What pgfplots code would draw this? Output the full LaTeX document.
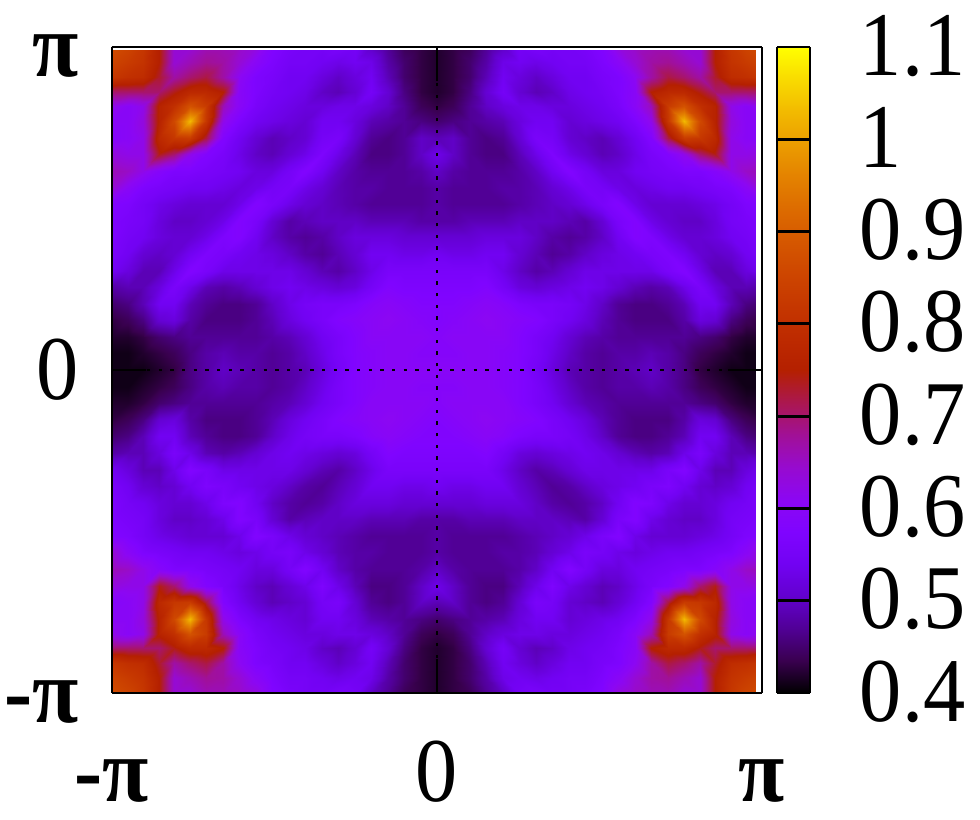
\documentclass[border=0pt]{standalone}
\usepackage{fontspec}
\setmainfont{Liberation Serif}
\usepackage{pgfplots}
\usepackage{pgfplotstable}
\pgfplotsset{compat=1.18}

% one quadrant (x>0, y>0), top row first, left column = x 0
\pgfplotstableread[row sep=\\,header=false]{
.42\\.43\\.44\\.47\\.50\\.55\\.56\\.55\\.55\\.56\\.58\\.63\\.65\\.66\\.66\\.64\\.64\\.75\\.82\\.85\\.87\\
.42\\.43\\.45\\.48\\.53\\.54\\.53\\.54\\.55\\.55\\.57\\.60\\.64\\.67\\.68\\.66\\.64\\.75\\.81\\.83\\.85\\
.42\\.43\\.45\\.49\\.54\\.52\\.50\\.52\\.54\\.54\\.56\\.57\\.61\\.67\\.72\\.70\\.67\\.73\\.79\\.80\\.82\\
.42\\.43\\.46\\.51\\.55\\.51\\.49\\.50\\.53\\.54\\.55\\.57\\.60\\.75\\.78\\.78\\.74\\.70\\.70\\.70\\.70\\
.43\\.44\\.47\\.50\\.52\\.53\\.53\\.52\\.52\\.53\\.54\\.56\\.60\\.66\\.83\\.88\\.80\\.76\\.62\\.60\\.62\\
.45\\.46\\.47\\.48\\.49\\.52\\.54\\.54\\.51\\.52\\.53\\.54\\.57\\.62\\.82\\1.03\\.86\\.76\\.63\\.60\\.60\\
.49\\.50\\.47\\.46\\.47\\.51\\.56\\.55\\.51\\.50\\.49\\.51\\.54\\.58\\.72\\.83\\.82\\.78\\.62\\.60\\.59\\
.53\\.50\\.47\\.46\\.46\\.49\\.53\\.57\\.53\\.51\\.49\\.50\\.53\\.56\\.58\\.62\\.70\\.74\\.62\\.62\\.63\\
.50\\.48\\.47\\.47\\.47\\.48\\.50\\.54\\.58\\.55\\.52\\.52\\.54\\.55\\.56\\.57\\.57\\.59\\.62\\.65\\.66\\
.48\\.47\\.47\\.47\\.48\\.48\\.49\\.51\\.53\\.56\\.55\\.53\\.52\\.53\\.54\\.54\\.55\\.56\\.57\\.60\\.64\\
.48\\.47\\.47\\.47\\.47\\.48\\.49\\.50\\.51\\.53\\.56\\.58\\.53\\.51\\.51\\.51\\.52\\.53\\.55\\.57\\.58\\
.48\\.48\\.49\\.49\\.49\\.50\\.50\\.50\\.49\\.48\\.51\\.56\\.58\\.53\\.51\\.50\\.50\\.52\\.55\\.56\\.57\\
.51\\.51\\.51\\.52\\.52\\.52\\.50\\.48\\.47\\.48\\.50\\.54\\.58\\.57\\.53\\.51\\.51\\.52\\.54\\.55\\.57\\
.54\\.53\\.53\\.54\\.54\\.51\\.49\\.47\\.48\\.50\\.52\\.53\\.54\\.56\\.57\\.54\\.51\\.50\\.51\\.54\\.56\\
.56\\.56\\.56\\.56\\.53\\.50\\.48\\.49\\.51\\.53\\.53\\.53\\.53\\.53\\.56\\.58\\.53\\.49\\.49\\.52\\.54\\
.57\\.57\\.57\\.58\\.55\\.52\\.51\\.52\\.53\\.54\\.53\\.51\\.49\\.48\\.49\\.53\\.56\\.52\\.49\\.49\\.48\\
.58\\.58\\.59\\.60\\.59\\.57\\.56\\.56\\.55\\.53\\.50\\.47\\.46\\.46\\.47\\.49\\.54\\.54\\.49\\.46\\.45\\
.58\\.59\\.60\\.61\\.60\\.59\\.58\\.56\\.54\\.52\\.49\\.47\\.46\\.46\\.46\\.48\\.52\\.51\\.46\\.44\\.43\\
.59\\.60\\.60\\.60\\.60\\.58\\.56\\.54\\.51\\.49\\.48\\.47\\.47\\.47\\.47\\.47\\.46\\.45\\.43\\.42\\.42\\
.59\\.59\\.60\\.60\\.59\\.58\\.56\\.53\\.50\\.48\\.47\\.48\\.48\\.49\\.48\\.46\\.44\\.43\\.42\\.41\\.41\\
.60\\.60\\.60\\.60\\.59\\.58\\.55\\.52\\.49\\.48\\.47\\.48\\.49\\.50\\.48\\.46\\.43\\.42\\.41\\.41\\.41\\
}\zq

% colour bar: the same colour scale, bottom row 0.4, top row 1.1
\pgfplotstableread{
x y v
0 0.4 0.4
1 0.4 0.4
0 1.1 1.1
1 1.1 1.1
}\barq

% grid position from row number: 21 columns, 21 rows
\def\gx{(min(mod(\coordindex,21),15)*.1593+max(mod(\coordindex,21)-15,0)*.15)}
\def\gj{(20-floor(\coordindex/21+.01))}
\def\gy{(min(\gj,15)*.1613+max(\gj-15,0)*.1443)}

% Times-like digits stand a little taller in the reference
\newcommand\sy[1]{\scalebox{1}[1.08]{#1}}
\newcommand\pii{\sy{\textbf{π}}}
\newcommand\mpi{\sy{\textbf{-π}}}

\pgfplotsset{
  gpmap/.style={
    colormap={gp}{
      rgb=(0,0,0) rgb=(.224,0,.309) rgb=(.316,.001,.588) rgb=(.387,.003,.809)
      rgb=(.447,.008,.951) rgb=(.5,.016,1) rgb=(.548,.027,.951) rgb=(.592,.043,.809)
      rgb=(.632,.064,.588) rgb=(.671,.091,.309) rgb=(.707,.125,0) rgb=(.742,.166,0)
      rgb=(.775,.216,0) rgb=(.806,.275,0) rgb=(.837,.343,0) rgb=(.866,.422,0)
      rgb=(.894,.512,0) rgb=(.922,.614,0) rgb=(.949,.729,0) rgb=(.975,.857,0)
      rgb=(1,1,0)
    },
    point meta min=0.4, point meta max=1.1,
  },
  qd/.style={surf,shader=interp,mesh/rows=21,mesh/cols=21},
}

\begin{document}
\begin{tikzpicture}
\path[use as bounding box] (0,0) rectangle (24.5cm,20.5cm);
\begin{axis}[
  at={(2.8cm,3.175cm)}, anchor=south west,
  scale only axis, width=16.25cm, height=16.15cm,
  view={0}{90}, gpmap,
  xmin=-3.1416, xmax=3.1416, ymin=-3.1416, ymax=3.1416,
  xtick={-3.1416,0,3.1416}, ytick={-3.1416,0,3.1416},
  xticklabels={\mpi,\sy{0},\pii}, yticklabels={\mpi,\sy{0},\pii},
  tick label style={font=\fontsize{60}{60}\selectfont},
  xticklabel style={anchor=base,yshift=-77pt},
  yticklabel style={anchor=base east,xshift=-20pt,yshift=-21pt},
  tick align=inside, major tick length=.85cm,
  every tick/.style={black,line width=2pt},
  axis line style={line width=1.5pt},
  grid=major,
  grid style={black,line width=2pt,dash pattern=on 2.3pt off 6pt},
  axis on top,
]
\addplot3[qd] table[x index=0,y index=0,z index=0,x expr={\gx},y expr={\gy},header=false] {\zq};
\addplot3[qd] table[x index=0,y index=0,z index=0,x expr={-\gx},y expr={\gy},header=false] {\zq};
\addplot3[qd] table[x index=0,y index=0,z index=0,x expr={\gx},y expr={-\gy},header=false] {\zq};
\addplot3[qd] table[x index=0,y index=0,z index=0,x expr={-\gx},y expr={-\gy},header=false] {\zq};
% the map stops a little short of the frame at the top and on the right
\fill[white] (axis cs:3.084,-3.1416) rectangle (axis cs:3.1416,3.1416);
\fill[white] (axis cs:-3.1416,3.11) rectangle (axis cs:3.1416,3.1416);
\end{axis}
\begin{axis}[
  at={(19.425cm,3.175cm)}, anchor=south west,
  scale only axis, width=.825cm, height=16.15cm,
  view={0}{90}, gpmap,
  xmin=0, xmax=1, ymin=0.4, ymax=1.1,
  xtick=\empty,
  ytick={0.4,0.5,0.6,0.7,0.8,0.9,1,1.1},
  yticklabels={\sy{0.4},\sy{0.5},\sy{0.6},\sy{0.7},\sy{0.8},\sy{0.9},\sy{1},\sy{1.1}},
  ytick pos=right, yticklabel pos=right,
  tick align=inside, major tick length=.825cm,
  every tick/.style={black,line width=2pt},
  axis line style={line width=2pt},
  yticklabel style={anchor=base west,xshift=32pt,yshift=-20pt,font=\fontsize{60}{60}\selectfont},
  axis on top,
]
\addplot3[surf,shader=interp,mesh/rows=2,mesh/cols=2] table[x=x,y=y,z=v] {\barq};
\end{axis}
\end{tikzpicture}
\end{document}
